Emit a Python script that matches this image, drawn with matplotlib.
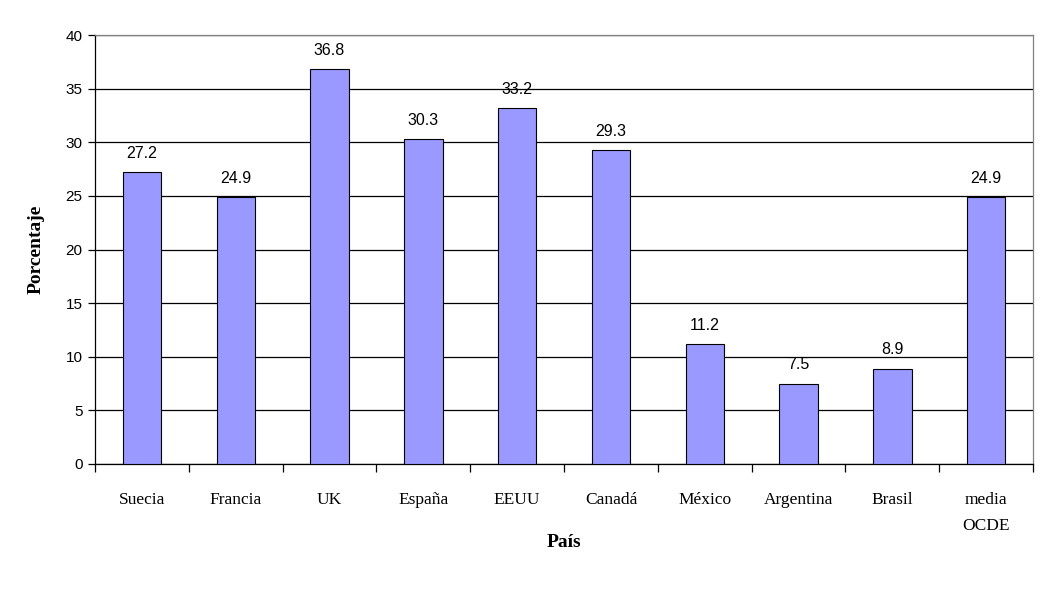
import matplotlib
matplotlib.use("Agg")
import matplotlib.pyplot as plt
import numpy as np

paises = ["Suecia", "Francia", "UK", "España", "EEUU", "Canadá",
          "México", "Argentina", "Brasil", "media\nOCDE"]
porcentaje = [27.2, 24.9, 36.8, 30.3, 33.2, 29.3, 11.2, 7.5, 8.9, 24.9]
y_ticks = [0, 5, 10, 15, 20, 25, 30, 35, 40]

fig = plt.figure(figsize=(10.49, 6.07), dpi=100)
ax = fig.add_axes([0.0906, 0.2356, 0.8942, 0.7067])

x = np.arange(len(paises))
ax.bar(x, porcentaje, width=0.41, color="#9999FF", edgecolor="black",
       linewidth=0.8, zorder=3)

for xi, v in zip(x, porcentaje):
    ax.annotate(f"{v:.1f}", (xi, v), xytext=(0, 8), textcoords="offset points",
                ha="center", va="bottom", fontsize=11.5,
                family="Liberation Sans")

ax.set_xlim(-0.5, len(paises) - 0.5)
ax.set_ylim(0, 40)
ax.set_yticks(y_ticks)
ax.set_yticklabels([str(t) for t in y_ticks], family="Liberation Sans", fontsize=11)
ax.yaxis.grid(True, color="black", linewidth=0.9, zorder=0)
ax.tick_params(axis="y", direction="out", length=5, width=0.9, pad=4)

# category labels between tick marks
ax.set_xticks(np.arange(len(paises) + 1) - 0.5)
ax.set_xticklabels([])
ax.tick_params(axis="x", direction="out", length=6, width=0.9)
ax.set_xticks(x, minor=True)
ax.set_xticklabels(paises, minor=True, family="Liberation Serif", fontsize=12.5,
                   va="top", linespacing=1.85)
ax.tick_params(axis="x", which="minor", length=0, pad=20)

for s in ["top", "right"]:
    ax.spines[s].set_color("#808080")
    ax.spines[s].set_linewidth(0.9)
for s in ["left", "bottom"]:
    ax.spines[s].set_color("black")
    ax.spines[s].set_linewidth(0.9)

ax.set_ylabel("Porcentaje", family="Liberation Serif", fontsize=14,
              fontweight="bold", labelpad=15)
ax.set_xlabel("País", family="Liberation Serif", fontsize=14,
              fontweight="bold", labelpad=0)

fig.savefig("out.png", dpi=100)
